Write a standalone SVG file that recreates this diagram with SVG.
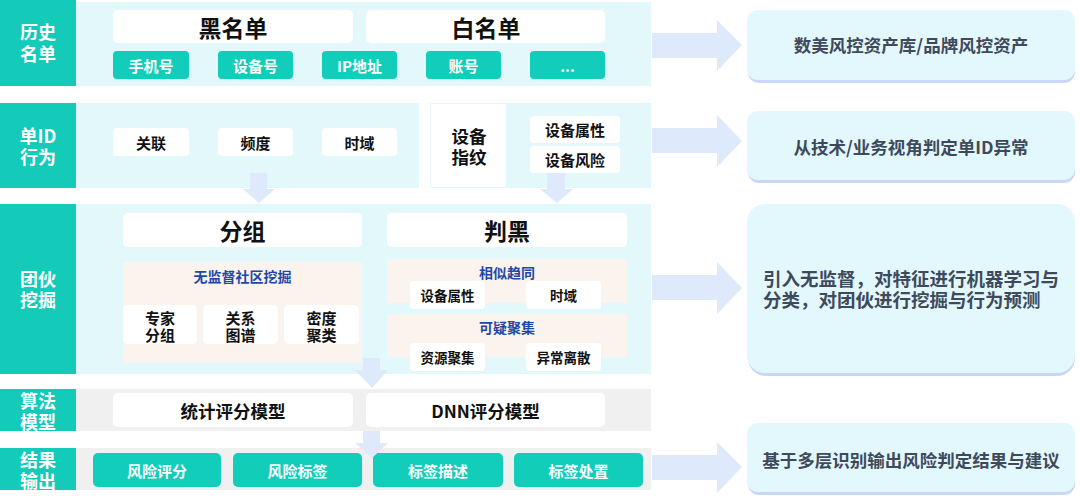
<svg xmlns="http://www.w3.org/2000/svg" width="1080" height="502" viewBox="0 0 1080 502">
<defs>
<style>
text{font-family:"Noto Sans CJK SC","Noto Sans",sans-serif;font-weight:bold;text-anchor:middle;dominant-baseline:central}
.lab{fill:#13cbb8}
.lt{fill:#ffffff;font-size:18px}
.bg{fill:#e3f8fb}
.gr{fill:#f0f0f0}
.wb{fill:#ffffff}
.tb{fill:#12cdb9}
.h{fill:#111111;font-size:23px}
.bt{fill:#ffffff;font-size:15px}
.k{fill:#111111;font-size:15px}
.ks{fill:#111111;font-size:13.5px}
.blue{fill:#1d49a6;font-size:14px}
.pan{fill:#fbf3ee}
.arr{fill:#dee9fb}
.rb{fill:#e3f8fc}
.sh{fill:#c9d6f6}
.rt{fill:#3e4a5c;font-size:17.5px}
</style>
</defs>

<!-- Row 1 -->
<g id="row-history">
<rect class="lab" x="0" y="0" width="76" height="86"/>
<text class="lt"><tspan x="38" y="31">历史</tspan><tspan x="38" y="53">名单</tspan></text>
<rect class="bg" x="76" y="2" width="575" height="84"/>
</g>
<g id="blacklist"><rect class="wb" x="113" y="10" width="240" height="33" rx="5"/><text class="h" x="233" y="27">黑名单</text></g>
<g id="whitelist"><rect class="wb" x="366" y="10" width="239" height="33" rx="5"/><text class="h" x="486" y="27">白名单</text></g>
<g id="phone"><rect class="tb" x="113" y="51" width="76" height="28" rx="4"/><text class="bt" x="151" y="65">手机号</text></g>
<g id="device-no"><rect class="tb" x="218" y="51" width="75" height="28" rx="4"/><text class="bt" x="255.5" y="65">设备号</text></g>
<g id="ip"><rect class="tb" x="322" y="51" width="75" height="28" rx="4"/><text class="bt" x="359.5" y="65">IP地址</text></g>
<g id="account"><rect class="tb" x="426" y="51" width="75" height="28" rx="4"/><text class="bt" x="463.5" y="65">账号</text></g>
<g id="more"><rect class="tb" x="530" y="51" width="75" height="28" rx="4"/><text class="bt" x="567.5" y="65">...</text></g>

<!-- Row 2 -->
<g id="row-single">
<rect class="lab" x="0" y="103" width="76" height="85"/>
<text class="lt"><tspan x="38" y="135">单ID</tspan><tspan x="38" y="156">行为</tspan></text>
<rect class="bg" x="76" y="103" width="343" height="85"/>
<rect class="bg" x="507" y="103" width="144" height="85"/>
<rect fill="#ffffff" stroke="#e3f8fb" stroke-width="1" x="430.5" y="103.5" width="76" height="84"/>
</g>
<g id="assoc"><rect class="wb" x="113" y="128" width="76" height="28" rx="4"/><text class="k" x="151" y="142">关联</text></g>
<g id="freq"><rect class="wb" x="218" y="128" width="75" height="28" rx="4"/><text class="k" x="255.5" y="142">频度</text></g>
<g id="timedomain"><rect class="wb" x="322" y="128" width="75" height="28" rx="4"/><text class="k" x="359.5" y="142">时域</text></g>
<g id="fingerprint"><text class="k" style="font-size:17.5px"><tspan x="469" y="135">设备</tspan><tspan x="469" y="156">指纹</tspan></text></g>
<g id="dev-attr"><rect class="wb" x="530" y="116" width="90" height="27" rx="4"/><text class="k" x="575" y="129.5">设备属性</text></g>
<g id="dev-risk"><rect class="wb" x="530" y="146" width="90" height="27" rx="4"/><text class="k" x="575" y="159.5">设备风险</text></g>

<!-- Row 3 -->
<g id="row-gang">
<rect class="lab" x="0" y="204" width="76" height="170"/>
<text class="lt"><tspan x="38" y="278">团伙</tspan><tspan x="38" y="299">挖掘</tspan></text>
<rect class="bg" x="76" y="204" width="575" height="170"/>
</g>
<g id="grouping"><rect class="wb" x="123" y="213" width="239" height="34" rx="5"/><text class="h" x="242.5" y="230">分组</text></g>
<g id="judge"><rect class="wb" x="387" y="213" width="240" height="34" rx="5"/><text class="h" x="507" y="230">判黑</text></g>
<g id="unsupervised">
<rect class="pan" x="123" y="262" width="239" height="101"/>
<text class="blue" x="242.5" y="276">无监督社区挖掘</text>
</g>
<g id="expert"><rect class="wb" x="123" y="305" width="74" height="39" rx="5"/><text class="k"><tspan x="160" y="317">专家</tspan><tspan x="160" y="334">分组</tspan></text></g>
<g id="graph"><rect class="wb" x="203" y="305" width="75" height="39" rx="5"/><text class="k"><tspan x="240.5" y="317">关系</tspan><tspan x="240.5" y="334">图谱</tspan></text></g>
<g id="density"><rect class="wb" x="284" y="305" width="75" height="39" rx="5"/><text class="k"><tspan x="321.5" y="317">密度</tspan><tspan x="321.5" y="334">聚类</tspan></text></g>
<g id="similar">
<rect class="pan" x="387" y="259" width="240" height="44"/>
<text class="blue" x="507" y="272">相似趋同</text>
</g>
<g id="sim-attr"><rect class="wb" x="410" y="281" width="75" height="28" rx="4"/><text class="ks" x="447.5" y="295">设备属性</text></g>
<g id="sim-time"><rect class="wb" x="526" y="281" width="75" height="28" rx="4"/><text class="ks" x="563.5" y="295">时域</text></g>
<g id="suspicious">
<rect class="pan" x="387" y="314" width="240" height="43"/>
<text class="blue" x="507" y="327">可疑聚集</text>
</g>
<g id="resource"><rect class="wb" x="410" y="343" width="75" height="28" rx="4"/><text class="ks" x="447.5" y="357">资源聚集</text></g>
<g id="abnormal"><rect class="wb" x="526" y="343" width="75" height="28" rx="4"/><text class="ks" x="563.5" y="357">异常离散</text></g>

<!-- Row 4 -->
<g id="row-algo">
<rect class="lab" x="0" y="389" width="76" height="42"/>
<text class="lt"><tspan x="38" y="400">算法</tspan><tspan x="38" y="421">模型</tspan></text>
<rect class="gr" x="76" y="389" width="575" height="42"/>
</g>
<g id="stat-model"><rect class="wb" x="113" y="393" width="240" height="34" rx="5"/><text class="k" style="font-size:17.5px" x="233" y="410">统计评分模型</text></g>
<g id="dnn-model"><rect class="wb" x="366" y="393" width="239" height="34" rx="5"/><text class="k" style="font-size:17.5px" x="485.5" y="410">DNN评分模型</text></g>

<!-- Row 5 -->
<g id="row-output">
<rect class="lab" x="0" y="448" width="76" height="42"/>
<text class="lt"><tspan x="38" y="459">结果</tspan><tspan x="38" y="480">输出</tspan></text>
<rect class="gr" x="76" y="448" width="575" height="42"/>
</g>
<g id="risk-score"><rect class="tb" x="93" y="453" width="128" height="34" rx="5"/><text class="bt" x="157" y="470">风险评分</text></g>
<g id="risk-label"><rect class="tb" x="233" y="453" width="129" height="34" rx="5"/><text class="bt" x="297.5" y="470">风险标签</text></g>
<g id="label-desc"><rect class="tb" x="373" y="453" width="130" height="34" rx="5"/><text class="bt" x="438" y="470">标签描述</text></g>
<g id="label-handle"><rect class="tb" x="514" y="453" width="129" height="34" rx="5"/><text class="bt" x="578.5" y="470">标签处置</text></g>

<!-- Connectors -->
<g id="connectors">
<polygon class="arr" points="250,173 267,173 267,189 275,189 259,203 243,189 250,189"/>
<polygon class="arr" points="547,173 565,173 565,189 573,189 557,203 540,189 547,189"/>
<polygon class="arr" points="363,358 380,358 380,370 388,370 372,388 355,370 363,370"/>
<polygon class="arr" points="363,431 380,431 380,443 388,443 372,458 355,443 363,443"/>
<polygon class="arr" points="652,33 717,33 717,20 742,45 717,71 717,58 652,58"/>
<polygon class="arr" points="652,128 717,128 717,115 742,141 717,167 717,153 652,153"/>
<polygon class="arr" points="652,275 717,275 717,262 742,288 717,314 717,300 652,300"/>
<polygon class="arr" points="652,455 717,455 717,442 742,467 717,493 717,480 652,480"/>
</g>

<!-- Right boxes -->
<g id="asset">
<rect class="sh" x="748" y="13" width="327" height="70" rx="11"/>
<rect class="rb" x="747" y="10" width="328" height="70" rx="11"/>
<text class="rt" x="911" y="44">数美风控资产库/品牌风控资产</text>
</g>
<g id="judge-single">
<rect class="sh" x="748" y="114" width="327" height="69" rx="11"/>
<rect class="rb" x="747" y="111" width="328" height="69" rx="11"/>
<text class="rt" x="911" y="146">从技术/业务视角判定单ID异常</text>
</g>
<g id="ml-desc">
<rect class="sh" x="748" y="207" width="327" height="169" rx="18"/>
<rect class="rb" x="747" y="204" width="328" height="169" rx="18"/>
<text class="rt" style="font-size:18.5px;text-anchor:start"><tspan x="763" y="278">引入无监督，对特征进行机器学习与</tspan><tspan x="763" y="299">分类，对团伙进行挖掘与行为预测</tspan></text>
</g>
<g id="result-desc">
<rect class="sh" x="748" y="426" width="327" height="69" rx="11"/>
<rect class="rb" x="747" y="423" width="328" height="69" rx="11"/>
<text class="rt" x="911" y="459">基于多层识别输出风险判定结果与建议</text>
</g>
</svg>
